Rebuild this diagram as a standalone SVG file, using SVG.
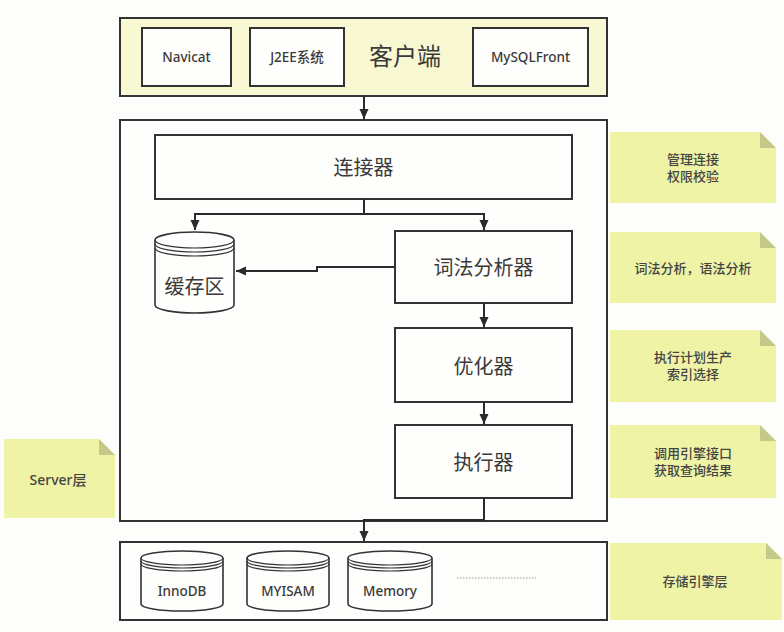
<svg xmlns="http://www.w3.org/2000/svg" width="784" height="632" viewBox="0 0 784 632">
<defs>
<marker id="arr" viewBox="0 0 10 10" refX="10" refY="5" markerWidth="10" markerHeight="10" markerUnits="userSpaceOnUse" orient="auto">
<path d="M0,0.5 L10,5 L0,9.5 Z" fill="#2a2a2a"/>
</marker>
<style>
.box{fill:#fefefc;stroke:#333;stroke-width:2}
.outer{fill:#fefefc;stroke:#333;stroke-width:2}
.client{fill:#f8f8d2;stroke:#333;stroke-width:2}
.note{fill:#eef3a6}
.fold{fill:#c4c98a}
.cyl{fill:#fefefc;stroke:#333;stroke-width:1.6}
.cl{fill:none;stroke:#333;stroke-width:1.2}
.t{font-family:"Noto Sans","Noto Sans CJK SC",sans-serif;fill:#3a3a3a;text-anchor:middle;dominant-baseline:central}
.big{font-size:20px}
.sm{font-size:13.5px;font-weight:500}
.nt{font-size:13px;fill:#444;font-weight:500}
.con{fill:none;stroke:#2a2a2a;stroke-width:2}
</style>
</defs>
<rect width="784" height="632" fill="#fdfdfb"/>

<g id="client">
<rect class="client" x="120" y="18" width="487" height="78"/>
<text class="t" x="405" y="55" style="font-size:24px">客户端</text>
</g>
<g id="navicat"><rect class="box" x="142" y="28" width="89" height="58"/><text class="t sm" x="186.5" y="57">Navicat</text></g>
<g id="j2ee"><rect class="box" x="250" y="28" width="94" height="58"/><text class="t sm" x="297" y="57">J2EE系统</text></g>
<g id="mysqlfront"><rect class="box" x="473" y="28" width="115" height="58"/><text class="t sm" x="530.5" y="57">MySQLFront</text></g>

<g id="server"><rect class="outer" x="120" y="120" width="487" height="401"/></g>

<g id="connector"><rect class="box" x="155" y="135" width="417" height="64"/><text class="t big" x="363.5" y="167">连接器</text></g>

<g id="cache">
<path class="cyl" d="M155,240 V305 A39.5,8 0 0 0 234,305 V240 A39.5,8 0 0 0 155,240 Z"/>
<path class="cl" d="M155,240 A39.5,8 0 0 0 234,240"/>
<path class="cl" d="M155,244 A39.5,8 0 0 0 234,244"/>
<path class="cl" d="M155,248 A39.5,8 0 0 0 234,248"/>
<text class="t big" x="194.5" y="286">缓存区</text>
</g>

<g id="lexer"><rect class="box" x="395" y="231" width="177" height="72"/><text class="t big" x="483.5" y="267">词法分析器</text></g>
<g id="optimizer"><rect class="box" x="395" y="328" width="177" height="74"/><text class="t big" x="483.5" y="366">优化器</text></g>
<g id="executor"><rect class="box" x="395" y="425" width="177" height="73"/><text class="t big" x="483.5" y="462">执行器</text></g>

<g id="storage"><rect class="outer" x="120" y="542" width="487" height="78"/>
<line x1="457" y1="578" x2="536" y2="578" stroke="#999" stroke-width="1" stroke-dasharray="1.5,1.5"/>
</g>
<g id="innodb">
<path class="cyl" d="M141,558 V604 A41,7 0 0 0 223,604 V558 A41,7 0 0 0 141,558 Z"/>
<path class="cl" d="M141,558 A41,7 0 0 0 223,558"/><path class="cl" d="M141,561 A41,7 0 0 0 223,561"/><path class="cl" d="M141,564 A41,7 0 0 0 223,564"/>
<text class="t sm" x="182" y="591">InnoDB</text>
</g>
<g id="myisam">
<path class="cyl" d="M247,558 V604 A41,7 0 0 0 329,604 V558 A41,7 0 0 0 247,558 Z"/>
<path class="cl" d="M247,558 A41,7 0 0 0 329,558"/><path class="cl" d="M247,561 A41,7 0 0 0 329,561"/><path class="cl" d="M247,564 A41,7 0 0 0 329,564"/>
<text class="t sm" x="288" y="591">MYISAM</text>
</g>
<g id="memory">
<path class="cyl" d="M348,558 V604 A42,7 0 0 0 432,604 V558 A42,7 0 0 0 348,558 Z"/>
<path class="cl" d="M348,558 A42,7 0 0 0 432,558"/><path class="cl" d="M348,561 A42,7 0 0 0 432,561"/><path class="cl" d="M348,564 A42,7 0 0 0 432,564"/>
<text class="t sm" x="390" y="591">Memory</text>
</g>

<g id="note1"><path class="note" d="M610,132 H760 L776,148 V203 H610 Z"/><path class="fold" d="M760,132 L776,148 H760 Z"/>
<text class="t nt" x="693" y="159">管理连接</text><text class="t nt" x="693" y="176">权限校验</text></g>
<g id="note2"><path class="note" d="M610,232 H760 L776,248 V303 H610 Z"/><path class="fold" d="M760,232 L776,248 H760 Z"/>
<text class="t nt" x="693" y="268">词法分析，语法分析</text></g>
<g id="note3"><path class="note" d="M610,330 H760 L776,346 V402 H610 Z"/><path class="fold" d="M760,330 L776,346 H760 Z"/>
<text class="t nt" x="693" y="357">执行计划生产</text><text class="t nt" x="693" y="374">索引选择</text></g>
<g id="note4"><path class="note" d="M610,425 H760 L776,441 V498 H610 Z"/><path class="fold" d="M760,425 L776,441 H760 Z"/>
<text class="t nt" x="693" y="453">调用引擎接口</text><text class="t nt" x="693" y="470">获取查询结果</text></g>
<g id="note5"><path class="note" d="M610,543 H766 L782,559 V620 H610 Z"/><path class="fold" d="M766,543 L782,559 H766 Z"/>
<text class="t nt" x="695" y="581">存储引擎层</text></g>
<g id="noteServer"><path class="note" d="M4,439 H99 L115,455 V518 H4 Z"/><path class="fold" d="M99,439 L115,455 H99 Z"/>
<text class="t nt" x="58" y="479" style="font-size:14px">Server层</text></g>

<g id="connectors">
<path class="con" d="M364,97 V119" marker-end="url(#arr)"/>
<path class="con" d="M364,199 V214"/>
<path class="con" d="M364,214 H195 V230" marker-end="url(#arr)"/>
<path class="con" d="M364,214 H484 V230" marker-end="url(#arr)"/>
<path class="con" d="M395,267 H317 V271 H236" marker-end="url(#arr)"/>
<path class="con" d="M484,303 V327" marker-end="url(#arr)"/>
<path class="con" d="M484,402 V424" marker-end="url(#arr)"/>
<path class="con" d="M484,498 V520 H364 V541" marker-end="url(#arr)"/>
</g>
</svg>
